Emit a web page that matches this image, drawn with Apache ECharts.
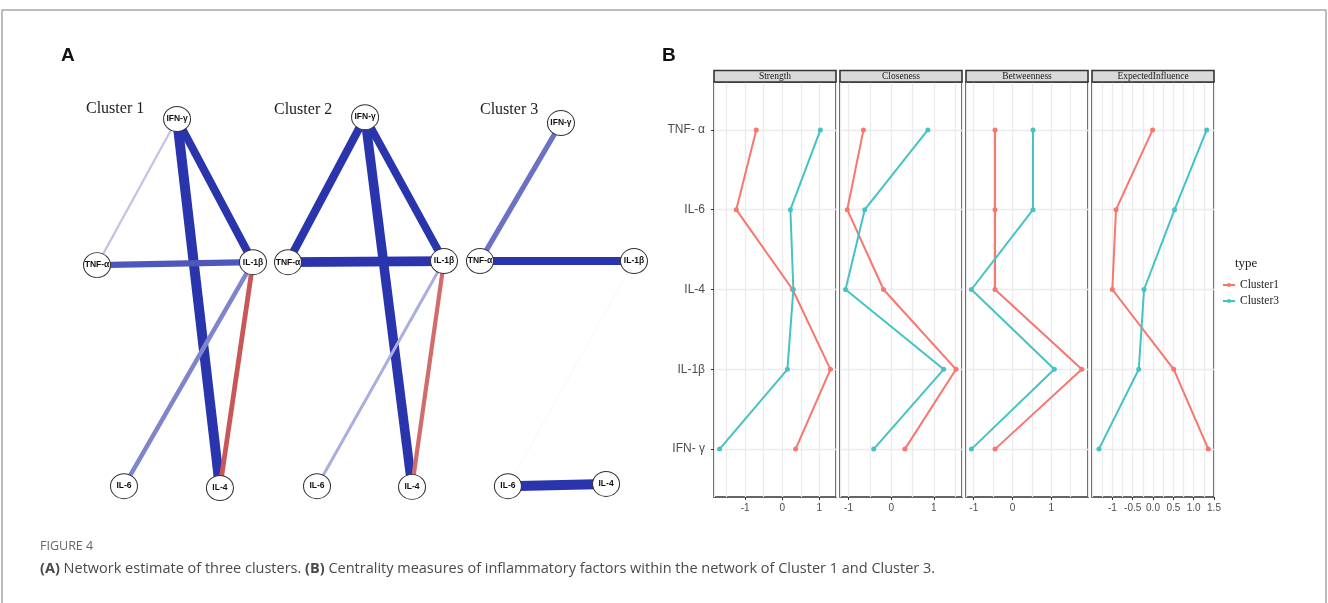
<!DOCTYPE html>
<html><head><meta charset="utf-8">
<script src="https://cdn.jsdelivr.net/npm/echarts@6/dist/echarts.min.js"></script>
<style>html,body{margin:0;padding:0;background:#fff}#c{width:1328px;height:603px}</style>
</head><body><div id="c"></div>
<script>
// ===== Panel A: network estimates =====
const clusterNames = ['Cluster 1', 'Cluster 2', 'Cluster 3'];
const nodeNames = ['IFN-γ', 'TNF-α', 'IL-1β', 'IL-6', 'IL-4'];
// node layout within each cluster box (0..1)
const layoutX1 = [0.513, 0.000, 1.000, 0.173, 0.788];
const layoutY1 = [0.000, 0.396, 0.388, 0.995, 1.000];
const layoutX2 = [0.494, 0.000, 1.000, 0.186, 0.795];
const layoutY2 = [-0.005, 0.388, 0.385, 0.995, 0.997];
const layoutX3 = [0.519, 0.000, 0.987, 0.179, 0.808];
const layoutY3 = [0.011, 0.385, 0.385, 0.995, 0.989];
// edges: [from, to, partial correlation weight]
const edges1 = [['IFN-γ','TNF-α',0.22],['IFN-γ','IL-4',1.0],['IFN-γ','IL-1β',0.8],['TNF-α','IL-1β',0.62],['IL-1β','IL-6',0.45],['IL-1β','IL-4',-0.48]];
const edges2 = [['IFN-γ','TNF-α',0.82],['IFN-γ','IL-4',0.95],['IFN-γ','IL-1β',0.78],['TNF-α','IL-1β',0.98],['IL-1β','IL-6',0.3],['IL-1β','IL-4',-0.42]];
const edges3 = [['IFN-γ','TNF-α',0.52],['TNF-α','IL-1β',0.78],['IL-1β','IL-6',0.05],['IL-6','IL-4',1.0]];

// ===== Panel B: centrality measures =====
const centralityCats = ['TNF- α', 'IL-6', 'IL-4', 'IL-1β', 'IFN- γ'];
const measures = ['Strength', 'Closeness', 'Betweenness', 'ExpectedInfluence'];
const groups = ['Cluster1', 'Cluster3'];
const c1Strength = [-0.70, -1.24, 0.28, 1.30, 0.36];
const c3Strength = [1.03, 0.22, 0.30, 0.14, -1.69];
const c1Closeness = [-0.65, -1.03, -0.18, 1.52, 0.32];
const c3Closeness = [0.86, -0.62, -1.07, 1.23, -0.41];
const c1Betweenness = [-0.45, -0.45, -0.45, 1.79, -0.45];
const c3Betweenness = [0.53, 0.53, -1.06, 1.08, -1.06];
const c1Expected = [-0.01, -0.91, -1.00, 0.51, 1.36];
const c3Expected = [1.32, 0.53, -0.22, -0.35, -1.33];
const xTickValues = [[-1, 0, 1], [-1, 0, 1], [-1, 0, 1], [-1, -0.5, 0, 0.5, 1, 1.5]];
const xRanges = [[-1.84, 1.45], [-1.2, 1.66], [-1.2, 1.95], [-1.5, 1.5]];

// ===== styling / layout =====
const serif = "'Liberation Serif','Times New Roman',serif";
const sans = "'Liberation Sans',Arial,sans-serif";
const narrow = "'Liberation Sans Narrow','Liberation Sans',Arial,sans-serif";
const capFont = "'Open Sans',sans-serif";
const RED = '#F8766D', TEAL = '#45C3C4';

function mix(base, t) {
  const c = base.map(v => Math.round(255 + (v - 255) * t));
  return 'rgb(' + c.join(',') + ')';
}
function edgeStyle(w) {
  const a = Math.abs(w);
  const t = w >= 0 ? Math.min(1, a / 0.75) : Math.min(1, a / 0.5);
  return {
    width: Math.max(0.6, 10 * a),
    color: w >= 0 ? mix([42, 52, 172], t) : mix([200, 80, 80], t),
    opacity: 1, curveness: 0
  };
}

const aLeft = [97, 288, 480], aTop = 119, aW = 156, aH = 369;
const layouts = [[layoutX1, layoutY1], [layoutX2, layoutY2], [layoutX3, layoutY3]];
const edgeSets = [edges1, edges2, edges3];

const bLeft = 714, bW = 122, bGap = 4, bTop = 82, bBottom = 497;
const bData = [[c1Strength, c3Strength], [c1Closeness, c3Closeness], [c1Betweenness, c3Betweenness], [c1Expected, c3Expected]];

const grid = [], xAxis = [], yAxis = [], series = [], graphic = [];

// panel A grids
for (let k = 0; k < 3; k++) {
  grid.push({ left: aLeft[k], top: aTop, width: aW, height: aH, show: false });
  xAxis.push({ type: 'value', gridIndex: k, min: 0, max: 1, show: false });
  yAxis.push({ type: 'value', gridIndex: k, min: 0, max: 1, inverse: true, show: false });
  const [lx, ly] = layouts[k];
  series.push({
    type: 'graph', coordinateSystem: 'cartesian2d', xAxisIndex: k, yAxisIndex: k,
    layout: 'none', roam: false, symbol: 'circle', symbolSize: [27, 25],
    itemStyle: { color: '#fff', borderColor: '#333', borderWidth: 1 },
    label: { show: true, position: 'inside', fontSize: 8.5, fontWeight: 'bold', color: '#111', fontFamily: sans },
    emphasis: { disabled: true },
    data: nodeNames.map((n, i) => ({ name: n, value: [lx[i], ly[i]] })),
    links: edgeSets[k].map(e => ({ source: e[0], target: e[1], lineStyle: edgeStyle(e[2]) })),
    silent: true
  });
}

// panel B grids
for (let p = 0; p < 4; p++) {
  const gi = 3 + p;
  const left = bLeft + p * (bW + bGap);
  grid.push({ left: left, top: bTop, width: bW, height: bBottom - bTop, show: true, borderColor: '#333', borderWidth: 1.6, backgroundColor: 'transparent' });
  const vals = xTickValues[p];
  // data/label axis
  xAxis.push({
    type: 'value', gridIndex: gi, position: 'bottom', min: xRanges[p][0], max: xRanges[p][1],
    axisLine: { show: false, onZero: false },
    axisTick: { show: true, length: 3, customValues: vals, lineStyle: { color: '#333', width: 1 } },
    axisLabel: { customValues: vals, color: '#4d4d4d', fontSize: 10, fontFamily: sans, margin: 6,
      formatter: v => (p === 3 ? (Math.abs(v + 1) < 1e-9 ? '-1' : (Math.abs(v + 0.5) < 1e-9 ? '-0.5' : v.toFixed(1))) : String(Math.round(v))) },
    splitLine: { show: false }
  });
  // gridline axis
  const gl = { type: 'value', gridIndex: gi, position: 'bottom', min: xRanges[p][0], max: xRanges[p][1],
    axisLine: { show: false, onZero: false }, axisTick: { show: false }, axisLabel: { show: false },
    splitLine: { show: true, lineStyle: { color: '#ebebeb', width: 1.3 } } };
  if (p === 3) gl.interval = 0.25;
  xAxis.push(gl);
  yAxis.push({
    type: 'value', gridIndex: gi, position: 'left', min: -0.6, max: 4.6, inverse: true,
    axisLine: { show: false, onZero: false },
    axisTick: { show: p === 0, length: 3, customValues: [0, 1, 2, 3, 4], lineStyle: { color: '#333' } },
    axisLabel: { show: p === 0, customValues: [0, 1, 2, 3, 4], color: '#4d4d4d', fontSize: 12, fontFamily: narrow, margin: 9,
      formatter: v => centralityCats[Math.round(v)] },
    splitLine: { show: true, lineStyle: { color: '#ebebeb', width: 1.3 } }
  });
  const xIdx = 3 + 2 * p;
  bData[p].forEach((arr, g) => {
    series.push({
      type: 'line', name: groups[g], xAxisIndex: xIdx, yAxisIndex: gi,
      data: arr.map((v, i) => [v, i]),
      symbol: 'circle', symbolSize: 5, showSymbol: true,
      lineStyle: { width: 2, color: g ? TEAL : RED }, itemStyle: { color: g ? TEAL : RED },
      emphasis: { disabled: true }, animation: false, z: 3
    });
  });
  // facet strip
  graphic.push({ type: 'rect', shape: { x: left, y: 70.5, width: bW, height: 11.5 }, style: { fill: '#d9d9d9', stroke: '#333', lineWidth: 1.6 }, z: 10 });
  graphic.push({ type: 'text', x: left + bW / 2, y: 76.5, style: { text: measures[p], fill: '#1a1a1a', font: '9.5px ' + serif, textAlign: 'center', textVerticalAlign: 'middle' }, z: 11 });
}

// frame
graphic.push({ type: 'rect', shape: { x: 2, y: 10, width: 1324, height: 640 }, style: { fill: 'none', stroke: '#a6a6a6', lineWidth: 1.5 }, z: 0 });
// legend title
graphic.push({ type: 'text', x: 1235, y: 264, style: { text: 'type', fill: '#222', font: '13px ' + serif, textVerticalAlign: 'middle' } });

const title = [
  { text: 'A', left: 61, top: 46, padding: 0, textStyle: { fontSize: 19, fontWeight: 'bold', color: '#111', fontFamily: sans } },
  { text: 'B', left: 662, top: 46, padding: 0, textStyle: { fontSize: 19, fontWeight: 'bold', color: '#111', fontFamily: sans } },
  { text: clusterNames[0], left: 86, top: 101, padding: 0, textStyle: { fontSize: 16, fontWeight: 'normal', color: '#222', fontFamily: serif } },
  { text: clusterNames[1], left: 274, top: 102, padding: 0, textStyle: { fontSize: 16, fontWeight: 'normal', color: '#222', fontFamily: serif } },
  { text: clusterNames[2], left: 480, top: 102, padding: 0, textStyle: { fontSize: 16, fontWeight: 'normal', color: '#222', fontFamily: serif } },
  { text: 'FIGURE 4', left: 40, top: 540, padding: 0, textStyle: { fontSize: 12.5, fontWeight: 'normal', color: '#666', fontFamily: capFont } },
  { text: '{b|(A)} Network estimate of three clusters. {b|(B)} Centrality measures of inflammatory factors within the network of Cluster 1 and Cluster 3.',
    left: 40, top: 561, padding: 0,
    textStyle: { fontSize: 14.5, fontWeight: 'normal', color: '#4a4a4a', fontFamily: capFont,
      rich: { b: { fontSize: 14.5, fontWeight: 'bold', color: '#4a4a4a', fontFamily: capFont } } } }
];

const chart = echarts.init(document.getElementById('c'));
chart.setOption({
  animation: false,
  backgroundColor: '#fff',
  title: title,
  grid: grid, xAxis: xAxis, yAxis: yAxis, series: series, graphic: graphic,
  legend: {
    data: groups, left: 1222, top: 279, orient: 'vertical', itemWidth: 12, itemHeight: 5, itemGap: 4,
    selectedMode: false, padding: 0,
    textStyle: { fontFamily: serif, fontSize: 11.5, color: '#222' }
  }
});
</script></body></html>
